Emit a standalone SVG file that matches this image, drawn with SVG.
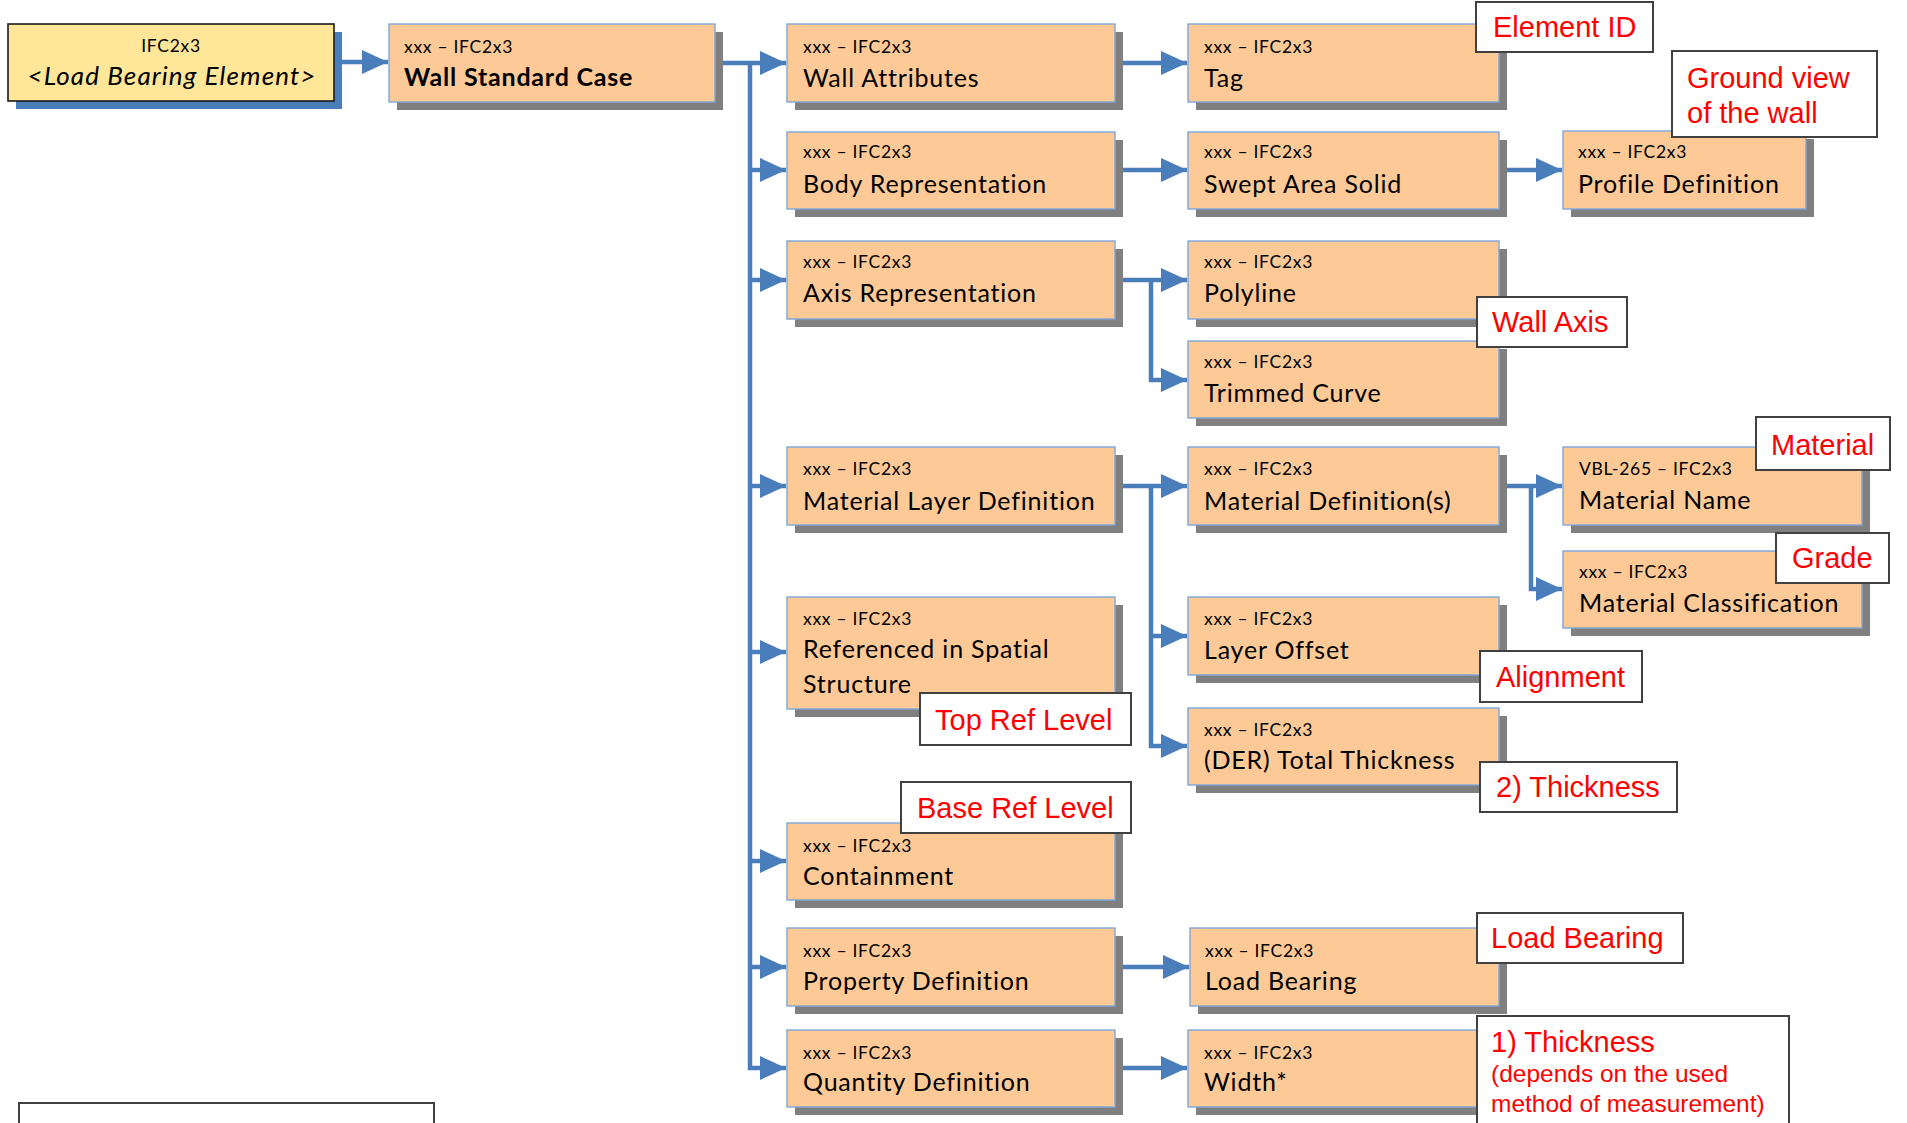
<svg xmlns="http://www.w3.org/2000/svg" width="1907" height="1123" viewBox="0 0 1907 1123">
  <defs>
    <style>
      .box { fill: #FDCA97; stroke: #7EA6DA; stroke-width: 1.4; }
      .root { fill: #FFE699; stroke: #1a1a1a; stroke-width: 1.6; }
      .sh { fill: #808080; }
      .shb { fill: #4A7EBB; }
      .small { font-family: Lato, "Liberation Sans", sans-serif; font-size: 17.5px; letter-spacing: 0.7px; fill: #000; }
      .main { font-family: Lato, "Liberation Sans", sans-serif; font-size: 25px; letter-spacing: 0.8px; fill: #000; }
      .bold { font-weight: bold; }
      .ital { font-style: italic; font-size: 26px; letter-spacing: 1.1px; }
      .lbl { fill: #fff; stroke: #404040; stroke-width: 2; }
      .lt { font-family: "Liberation Sans", Arial, sans-serif; font-size: 29px; fill: #FF0000; }
      .lts { font-family: "Liberation Sans", Arial, sans-serif; font-size: 24.5px; fill: #FF0000; }
      .cn { stroke: #4A7EBB; stroke-width: 4.5; fill: none; stroke-linejoin: miter; marker-end: url(#ah); }
    </style>
    <marker id="ah" markerUnits="userSpaceOnUse" markerWidth="26" markerHeight="24" viewBox="0 0 26 24" refX="26" refY="12" orient="auto">
      <path d="M0,0 L26,12 L0,24 Z" fill="#4A7EBB"/>
    </marker>
  </defs>

  <!-- connectors -->
  <g id="connectors">
    <path class="cn" d="M334,62 H388"/>
    <path class="cn" d="M715,63 H786"/>
    <path class="cn" d="M750,63 V1068 H786"/>
    <path class="cn" d="M750,170 H786"/>
    <path class="cn" d="M750,280 H786"/>
    <path class="cn" d="M750,486 H786"/>
    <path class="cn" d="M750,652 H786"/>
    <path class="cn" d="M750,861 H786"/>
    <path class="cn" d="M750,967 H786"/>
    <path class="cn" d="M1115,63 H1187"/>
    <path class="cn" d="M1115,170 H1187"/>
    <path class="cn" d="M1499,170 H1562"/>
    <path class="cn" d="M1115,280 H1187"/>
    <path class="cn" d="M1151,280 V380 H1187"/>
    <path class="cn" d="M1115,486 H1187"/>
    <path class="cn" d="M1151,486 V746 H1187"/>
    <path class="cn" d="M1151,636 H1187"/>
    <path class="cn" d="M1499,486 H1562"/>
    <path class="cn" d="M1531,486 V589 H1562"/>
    <path class="cn" d="M1115,967 H1189"/>
    <path class="cn" d="M1115,1068 H1187"/>
  </g>

  <!-- root element -->
  <g id="load-bearing-element">
    <rect class="shb" x="16" y="32" width="326" height="77"/>
    <rect class="root" x="8" y="24" width="326" height="77"/>
    <text class="small" x="171" y="52" text-anchor="middle">IFC2x3</text>
    <text class="main ital" x="172" y="85" text-anchor="middle">&lt;Load Bearing Element&gt;</text>
  </g>

  <g id="wall-standard-case">
    <rect class="sh" x="397" y="32" width="326" height="78"/>
    <rect class="box" x="389" y="24" width="326" height="78"/>
    <text class="small" x="404" y="53">xxx – IFC2x3</text>
    <text class="main bold" x="404" y="86">Wall Standard Case</text>
  </g>

  <!-- second column -->
  <g id="wall-attributes">
    <rect class="sh" x="795" y="32" width="328" height="78"/>
    <rect class="box" x="787" y="24" width="328" height="78"/>
    <text class="small" x="803" y="53">xxx – IFC2x3</text>
    <text class="main" x="803" y="87">Wall Attributes</text>
  </g>
  <g id="body-representation">
    <rect class="sh" x="795" y="140" width="328" height="77"/>
    <rect class="box" x="787" y="132" width="328" height="77"/>
    <text class="small" x="803" y="158">xxx – IFC2x3</text>
    <text class="main" x="803" y="193">Body Representation</text>
  </g>
  <g id="axis-representation">
    <rect class="sh" x="795" y="249" width="328" height="78"/>
    <rect class="box" x="787" y="241" width="328" height="78"/>
    <text class="small" x="803" y="268">xxx – IFC2x3</text>
    <text class="main" x="803" y="302">Axis Representation</text>
  </g>
  <g id="material-layer-definition">
    <rect class="sh" x="795" y="455" width="328" height="78"/>
    <rect class="box" x="787" y="447" width="328" height="78"/>
    <text class="small" x="803" y="475">xxx – IFC2x3</text>
    <text class="main" x="803" y="510">Material Layer Definition</text>
  </g>
  <g id="referenced-in-spatial-structure">
    <rect class="sh" x="795" y="605" width="328" height="112"/>
    <rect class="box" x="787" y="597" width="328" height="112"/>
    <text class="small" x="803" y="625">xxx – IFC2x3</text>
    <text class="main" x="803" y="658">Referenced in Spatial</text>
    <text class="main" x="803" y="693">Structure</text>
  </g>
  <g id="containment">
    <rect class="sh" x="795" y="831" width="328" height="77"/>
    <rect class="box" x="787" y="823" width="328" height="77"/>
    <text class="small" x="803" y="852">xxx – IFC2x3</text>
    <text class="main" x="803" y="885">Containment</text>
  </g>
  <g id="property-definition">
    <rect class="sh" x="795" y="936" width="328" height="78"/>
    <rect class="box" x="787" y="928" width="328" height="78"/>
    <text class="small" x="803" y="957">xxx – IFC2x3</text>
    <text class="main" x="803" y="990">Property Definition</text>
  </g>
  <g id="quantity-definition">
    <rect class="sh" x="795" y="1038" width="328" height="77"/>
    <rect class="box" x="787" y="1030" width="328" height="77"/>
    <text class="small" x="803" y="1059">xxx – IFC2x3</text>
    <text class="main" x="803" y="1091">Quantity Definition</text>
  </g>

  <!-- third column -->
  <g id="tag">
    <rect class="sh" x="1196" y="32" width="311" height="78"/>
    <rect class="box" x="1188" y="24" width="311" height="78"/>
    <text class="small" x="1204" y="53">xxx – IFC2x3</text>
    <text class="main" x="1204" y="87">Tag</text>
  </g>
  <g id="swept-area-solid">
    <rect class="sh" x="1196" y="140" width="311" height="77"/>
    <rect class="box" x="1188" y="132" width="311" height="77"/>
    <text class="small" x="1204" y="158">xxx – IFC2x3</text>
    <text class="main" x="1204" y="193">Swept Area Solid</text>
  </g>
  <g id="polyline">
    <rect class="sh" x="1196" y="249" width="311" height="78"/>
    <rect class="box" x="1188" y="241" width="311" height="78"/>
    <text class="small" x="1204" y="268">xxx – IFC2x3</text>
    <text class="main" x="1204" y="302">Polyline</text>
  </g>
  <g id="trimmed-curve">
    <rect class="sh" x="1196" y="349" width="311" height="77"/>
    <rect class="box" x="1188" y="341" width="311" height="77"/>
    <text class="small" x="1204" y="368">xxx – IFC2x3</text>
    <text class="main" x="1204" y="402">Trimmed Curve</text>
  </g>
  <g id="material-definitions">
    <rect class="sh" x="1196" y="455" width="311" height="78"/>
    <rect class="box" x="1188" y="447" width="311" height="78"/>
    <text class="small" x="1204" y="475">xxx – IFC2x3</text>
    <text class="main" x="1204" y="510">Material Definition(s)</text>
  </g>
  <g id="layer-offset">
    <rect class="sh" x="1196" y="605" width="311" height="78"/>
    <rect class="box" x="1188" y="597" width="311" height="78"/>
    <text class="small" x="1204" y="625">xxx – IFC2x3</text>
    <text class="main" x="1204" y="659">Layer Offset</text>
  </g>
  <g id="total-thickness">
    <rect class="sh" x="1196" y="716" width="311" height="77"/>
    <rect class="box" x="1188" y="708" width="311" height="77"/>
    <text class="small" x="1204" y="736">xxx – IFC2x3</text>
    <text class="main" x="1204" y="769">(DER) Total Thickness</text>
  </g>
  <g id="load-bearing">
    <rect class="sh" x="1198" y="936" width="309" height="78"/>
    <rect class="box" x="1190" y="928" width="309" height="78"/>
    <text class="small" x="1205" y="957">xxx – IFC2x3</text>
    <text class="main" x="1205" y="990">Load Bearing</text>
  </g>
  <g id="width">
    <rect class="sh" x="1196" y="1038" width="311" height="77"/>
    <rect class="box" x="1188" y="1030" width="311" height="77"/>
    <text class="small" x="1204" y="1059">xxx – IFC2x3</text>
    <text class="main" x="1204" y="1091">Width*</text>
  </g>

  <!-- fourth column -->
  <g id="profile-definition">
    <rect class="sh" x="1571" y="139" width="243" height="78"/>
    <rect class="box" x="1563" y="131" width="243" height="78"/>
    <text class="small" x="1578" y="158">xxx – IFC2x3</text>
    <text class="main" x="1578" y="193">Profile Definition</text>
  </g>
  <g id="material-name">
    <rect class="sh" x="1571" y="455" width="299" height="78"/>
    <rect class="box" x="1563" y="447" width="299" height="78"/>
    <text class="small" x="1579" y="475">VBL-265 – IFC2x3</text>
    <text class="main" x="1579" y="509">Material Name</text>
  </g>
  <g id="material-classification">
    <rect class="sh" x="1571" y="559" width="299" height="77"/>
    <rect class="box" x="1563" y="551" width="299" height="77"/>
    <text class="small" x="1579" y="578">xxx – IFC2x3</text>
    <text class="main" x="1579" y="612">Material Classification</text>
  </g>

  <!-- annotations -->
  <g id="note-element-id">
    <rect class="lbl" x="1476" y="2" width="177" height="50"/>
    <text class="lt" x="1493" y="37">Element ID</text>
  </g>
  <g id="note-ground-view">
    <rect class="lbl" x="1672" y="51" width="205" height="86"/>
    <text class="lt" x="1687" y="88">Ground view</text>
    <text class="lt" x="1687" y="123">of the wall</text>
  </g>
  <g id="note-wall-axis">
    <rect class="lbl" x="1477" y="297" width="150" height="50"/>
    <text class="lt" x="1492" y="332">Wall Axis</text>
  </g>
  <g id="note-material">
    <rect class="lbl" x="1756" y="417" width="134" height="53"/>
    <text class="lt" x="1771" y="455">Material</text>
  </g>
  <g id="note-grade">
    <rect class="lbl" x="1776" y="533" width="113" height="50"/>
    <text class="lt" x="1792" y="568">Grade</text>
  </g>
  <g id="note-alignment">
    <rect class="lbl" x="1480" y="651" width="162" height="51"/>
    <text class="lt" x="1496" y="687">Alignment</text>
  </g>
  <g id="note-thickness-2">
    <rect class="lbl" x="1480" y="762" width="197" height="50"/>
    <text class="lt" x="1496" y="797">2) Thickness</text>
  </g>
  <g id="note-top-ref-level">
    <rect class="lbl" x="920" y="693" width="211" height="52"/>
    <text class="lt" x="935" y="730">Top Ref Level</text>
  </g>
  <g id="note-base-ref-level">
    <rect class="lbl" x="901" y="782" width="230" height="51"/>
    <text class="lt" x="917" y="818">Base Ref Level</text>
  </g>
  <g id="note-load-bearing">
    <rect class="lbl" x="1477" y="913" width="206" height="50"/>
    <text class="lt" x="1491" y="948">Load Bearing</text>
  </g>
  <g id="note-thickness-1">
    <rect class="lbl" x="1477" y="1016" width="312" height="120"/>
    <text class="lt" x="1491" y="1052">1) Thickness</text>
    <text class="lts" x="1491" y="1082">(depends on the used</text>
    <text class="lts" x="1491" y="1112">method of measurement)</text>
  </g>
  <g id="note-legend">
    <rect class="lbl" x="19" y="1103" width="415" height="40"/>
  </g>
</svg>
